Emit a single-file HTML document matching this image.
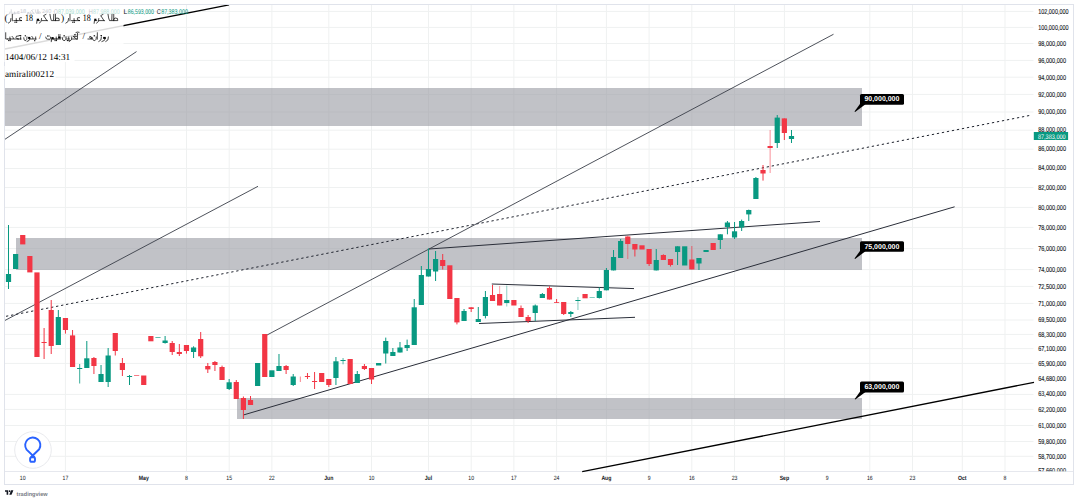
<!DOCTYPE html>
<html><head><meta charset="utf-8"><title>chart</title>
<style>
html,body{margin:0;padding:0;background:#fff;width:1078px;height:501px;overflow:hidden;}
svg{display:block;text-rendering:geometricPrecision;}
</style></head><body>
<svg width="1078" height="501" viewBox="0 0 1078 501">
<rect width="1078" height="501" fill="#fff"/>
<g stroke="#eff1f1" stroke-width="1"><line x1="4.5" y1="11.4" x2="1033.5" y2="11.4"/><line x1="4.5" y1="27.4" x2="1033.5" y2="27.4"/><line x1="4.5" y1="43.5" x2="1033.5" y2="43.5"/><line x1="4.5" y1="60.4" x2="1033.5" y2="60.4"/><line x1="4.5" y1="77.2" x2="1033.5" y2="77.2"/><line x1="4.5" y1="94.4" x2="1033.5" y2="94.4"/><line x1="4.5" y1="112" x2="1033.5" y2="112"/><line x1="4.5" y1="130.2" x2="1033.5" y2="130.2"/><line x1="4.5" y1="149.2" x2="1033.5" y2="149.2"/><line x1="4.5" y1="168.5" x2="1033.5" y2="168.5"/><line x1="4.5" y1="187.5" x2="1033.5" y2="187.5"/><line x1="4.5" y1="207.4" x2="1033.5" y2="207.4"/><line x1="4.5" y1="227.4" x2="1033.5" y2="227.4"/><line x1="4.5" y1="248.6" x2="1033.5" y2="248.6"/><line x1="4.5" y1="269.6" x2="1033.5" y2="269.6"/><line x1="4.5" y1="286.4" x2="1033.5" y2="286.4"/><line x1="4.5" y1="303.4" x2="1033.5" y2="303.4"/><line x1="4.5" y1="320" x2="1033.5" y2="320"/><line x1="4.5" y1="334.4" x2="1033.5" y2="334.4"/><line x1="4.5" y1="348.6" x2="1033.5" y2="348.6"/><line x1="4.5" y1="363.4" x2="1033.5" y2="363.4"/><line x1="4.5" y1="394.4" x2="1033.5" y2="394.4"/><line x1="4.5" y1="409.4" x2="1033.5" y2="409.4"/><line x1="4.5" y1="425.5" x2="1033.5" y2="425.5"/><line x1="4.5" y1="441.5" x2="1033.5" y2="441.5"/><line x1="4.5" y1="456.3" x2="1033.5" y2="456.3"/><line x1="65.4" y1="4.5" x2="65.4" y2="471.5"/><line x1="186.5" y1="4.5" x2="186.5" y2="471.5"/><line x1="229.2" y1="4.5" x2="229.2" y2="471.5"/><line x1="271.9" y1="4.5" x2="271.9" y2="471.5"/><line x1="328.8" y1="4.5" x2="328.8" y2="471.5"/><line x1="371.5" y1="4.5" x2="371.5" y2="471.5"/><line x1="428.5" y1="4.5" x2="428.5" y2="471.5"/><line x1="471.2" y1="4.5" x2="471.2" y2="471.5"/><line x1="513.9" y1="4.5" x2="513.9" y2="471.5"/><line x1="556.6" y1="4.5" x2="556.6" y2="471.5"/><line x1="606.4" y1="4.5" x2="606.4" y2="471.5"/><line x1="649.1" y1="4.5" x2="649.1" y2="471.5"/><line x1="691.8" y1="4.5" x2="691.8" y2="471.5"/><line x1="734.5" y1="4.5" x2="734.5" y2="471.5"/><line x1="784.4" y1="4.5" x2="784.4" y2="471.5"/><line x1="869.8" y1="4.5" x2="869.8" y2="471.5"/><line x1="912.5" y1="4.5" x2="912.5" y2="471.5"/><line x1="962.3" y1="4.5" x2="962.3" y2="471.5"/><line x1="1005.0" y1="4.5" x2="1005.0" y2="471.5"/></g><line x1="4.5" y1="471.5" x2="1073" y2="471.5" stroke="#e6e8ee" stroke-width="1"/><g fill="#989aa2" fill-opacity="0.6"><rect x="4.5" y="88" width="857.5" height="38"/><rect x="16" y="238" width="846" height="32"/><rect x="237" y="398" width="625" height="21"/></g><line x1="4.8" y1="49.0" x2="229" y2="4.9" stroke="#000" stroke-width="1.4" /><line x1="4.5" y1="139.6" x2="136.5" y2="51.6" stroke="#3a3e48" stroke-width="0.9" /><line x1="4.5" y1="320.7" x2="258" y2="186.3" stroke="#3a3e48" stroke-width="0.9" /><line x1="6" y1="316.3" x2="1031" y2="115.2" stroke="#1e222d" stroke-width="1.0" stroke-dasharray="2.3 2.8"/><line x1="265" y1="336.1" x2="833.5" y2="34.25" stroke="#3a3e48" stroke-width="0.9" /><line x1="243.3" y1="415" x2="954.6" y2="206.8" stroke="#2a2e39" stroke-width="1.0" /><line x1="429" y1="249" x2="820" y2="221.5" stroke="#2a2e39" stroke-width="1.0" /><line x1="491.8" y1="284" x2="634" y2="288.6" stroke="#2a2e39" stroke-width="1.0" /><line x1="479" y1="323.5" x2="635" y2="317.3" stroke="#2a2e39" stroke-width="1.0" /><line x1="582.2" y1="471.7" x2="1034" y2="382.3" stroke="#000" stroke-width="1.3" /><rect x="8.00" y="225.0" width="1" height="64.00" fill="#089981"/><rect x="5.90" y="274.0" width="5.2" height="8.00" fill="#089981"/><rect x="13.02" y="254.0" width="5.2" height="15.00" fill="#089981"/><rect x="20.14" y="235.0" width="5.2" height="9.40" fill="#f23645"/><rect x="27.25" y="256.0" width="5.2" height="16.40" fill="#f23645"/><rect x="34.37" y="272.4" width="5.2" height="84.60" fill="#f23645"/><rect x="43.59" y="328.0" width="1" height="31.00" fill="#f23645"/><rect x="41.49" y="342.0" width="5.2" height="1.00" fill="#f23645"/><rect x="50.71" y="300.0" width="1" height="54.00" fill="#f23645"/><rect x="48.61" y="310.0" width="5.2" height="36.00" fill="#f23645"/><rect x="57.83" y="310.0" width="1" height="35.00" fill="#089981"/><rect x="55.73" y="317.0" width="5.2" height="28.00" fill="#089981"/><rect x="64.94" y="318.0" width="1" height="15.60" fill="#f23645"/><rect x="62.84" y="318.0" width="5.2" height="12.00" fill="#f23645"/><rect x="72.06" y="330.0" width="1" height="37.00" fill="#f23645"/><rect x="69.96" y="335.4" width="5.2" height="31.60" fill="#f23645"/><rect x="79.18" y="364.0" width="1" height="19.50" fill="#089981" fill-opacity="0.8"/><rect x="77.08" y="368.0" width="5.2" height="1.00" fill="#089981"/><rect x="86.30" y="341.0" width="1" height="27.00" fill="#089981"/><rect x="84.20" y="358.3" width="5.2" height="9.70" fill="#089981"/><rect x="93.42" y="357.0" width="1" height="17.00" fill="#f23645"/><rect x="91.32" y="358.0" width="5.2" height="8.00" fill="#f23645"/><rect x="100.53" y="365.0" width="1" height="17.00" fill="#089981"/><rect x="98.43" y="374.0" width="5.2" height="8.00" fill="#089981"/><rect x="107.65" y="348.0" width="1" height="39.00" fill="#089981"/><rect x="105.55" y="355.5" width="5.2" height="26.50" fill="#089981"/><rect x="114.77" y="333.0" width="1" height="22.50" fill="#f23645"/><rect x="112.67" y="333.0" width="5.2" height="18.00" fill="#f23645"/><rect x="121.89" y="358.0" width="1" height="18.00" fill="#f23645"/><rect x="119.79" y="363.0" width="5.2" height="7.00" fill="#f23645"/><rect x="129.01" y="375.0" width="1" height="10.00" fill="#089981"/><rect x="126.91" y="376.0" width="5.2" height="1.00" fill="#089981"/><rect x="134.02" y="375.0" width="5.2" height="1.00" fill="#f23645" fill-opacity="0.65"/><rect x="141.14" y="375.5" width="5.2" height="9.50" fill="#f23645"/><rect x="148.26" y="336.0" width="5.2" height="5.30" fill="#f23645"/><rect x="155.38" y="337.0" width="5.2" height="1.00" fill="#089981" fill-opacity="0.65"/><rect x="164.60" y="336.0" width="1" height="7.60" fill="#089981"/><rect x="162.50" y="340.5" width="5.2" height="2.50" fill="#089981"/><rect x="171.71" y="341.0" width="1" height="14.00" fill="#f23645"/><rect x="169.61" y="343.0" width="5.2" height="9.00" fill="#f23645"/><rect x="178.83" y="344.0" width="1" height="12.00" fill="#f23645"/><rect x="176.73" y="352.0" width="5.2" height="2.00" fill="#f23645"/><rect x="185.95" y="345.0" width="1" height="8.60" fill="#f23645"/><rect x="183.85" y="345.0" width="5.2" height="6.00" fill="#f23645"/><rect x="193.07" y="346.3" width="1" height="11.70" fill="#089981"/><rect x="190.97" y="347.5" width="5.2" height="4.50" fill="#089981"/><rect x="200.19" y="332.0" width="1" height="26.00" fill="#f23645"/><rect x="198.09" y="339.0" width="5.2" height="17.30" fill="#f23645"/><rect x="207.30" y="363.0" width="1" height="10.00" fill="#f23645"/><rect x="205.20" y="366.0" width="5.2" height="3.40" fill="#f23645"/><rect x="214.42" y="361.0" width="1" height="10.00" fill="#f23645"/><rect x="212.32" y="362.0" width="5.2" height="3.00" fill="#f23645"/><rect x="221.54" y="365.6" width="1" height="14.40" fill="#f23645"/><rect x="219.44" y="367.0" width="5.2" height="13.00" fill="#f23645"/><rect x="228.66" y="379.0" width="1" height="11.00" fill="#089981"/><rect x="226.56" y="382.3" width="5.2" height="6.70" fill="#089981"/><rect x="235.78" y="380.0" width="1" height="19.00" fill="#f23645"/><rect x="233.68" y="382.0" width="5.2" height="17.00" fill="#f23645"/><rect x="242.89" y="396.5" width="1" height="22.50" fill="#f23645"/><rect x="240.79" y="398.0" width="5.2" height="12.00" fill="#f23645"/><rect x="250.01" y="396.0" width="1" height="9.00" fill="#f23645"/><rect x="247.91" y="400.0" width="5.2" height="5.00" fill="#f23645"/><rect x="255.03" y="363.0" width="5.2" height="23.00" fill="#089981"/><rect x="262.15" y="334.0" width="5.2" height="43.00" fill="#f23645"/><rect x="269.27" y="370.3" width="5.2" height="6.70" fill="#089981"/><rect x="278.48" y="354.0" width="1" height="17.00" fill="#089981"/><rect x="276.38" y="366.0" width="5.2" height="5.00" fill="#089981"/><rect x="285.60" y="365.0" width="1" height="9.00" fill="#f23645"/><rect x="283.50" y="366.0" width="5.2" height="4.00" fill="#f23645"/><rect x="292.72" y="374.0" width="1" height="12.00" fill="#089981"/><rect x="290.62" y="376.5" width="5.2" height="8.50" fill="#089981"/><rect x="299.84" y="376.5" width="1" height="5.50" fill="#f23645" fill-opacity="0.6"/><rect x="306.96" y="373.0" width="1" height="6.00" fill="#f23645"/><rect x="304.86" y="376.0" width="5.2" height="1.00" fill="#f23645"/><rect x="314.07" y="372.0" width="1" height="17.00" fill="#f23645"/><rect x="311.97" y="381.0" width="5.2" height="1.00" fill="#f23645"/><rect x="319.09" y="373.0" width="5.2" height="9.00" fill="#f23645"/><rect x="328.31" y="379.0" width="1" height="8.00" fill="#f23645"/><rect x="326.21" y="379.0" width="5.2" height="6.00" fill="#f23645"/><rect x="335.43" y="357.0" width="1" height="28.00" fill="#089981"/><rect x="333.33" y="361.3" width="5.2" height="16.70" fill="#089981"/><rect x="342.55" y="358.0" width="1" height="6.30" fill="#089981" fill-opacity="0.7"/><rect x="340.45" y="360.0" width="5.2" height="1.00" fill="#089981"/><rect x="347.56" y="359.0" width="5.2" height="25.00" fill="#f23645"/><rect x="356.78" y="371.0" width="1" height="12.00" fill="#089981"/><rect x="354.68" y="374.0" width="5.2" height="9.00" fill="#089981"/><rect x="363.90" y="364.0" width="1" height="6.00" fill="#f23645"/><rect x="361.80" y="366.0" width="5.2" height="3.00" fill="#f23645"/><rect x="371.02" y="368.0" width="1" height="16.00" fill="#f23645"/><rect x="368.92" y="368.0" width="5.2" height="11.50" fill="#f23645"/><rect x="376.04" y="363.0" width="5.2" height="2.50" fill="#089981"/><rect x="385.25" y="337.6" width="1" height="25.90" fill="#089981"/><rect x="383.15" y="341.0" width="5.2" height="12.50" fill="#089981"/><rect x="392.37" y="348.0" width="1" height="8.00" fill="#089981"/><rect x="390.27" y="352.0" width="5.2" height="4.00" fill="#089981"/><rect x="399.49" y="342.0" width="1" height="10.50" fill="#089981"/><rect x="397.39" y="347.5" width="5.2" height="5.00" fill="#089981"/><rect x="406.61" y="339.6" width="1" height="11.40" fill="#089981"/><rect x="404.51" y="345.0" width="5.2" height="3.00" fill="#089981"/><rect x="413.73" y="299.0" width="1" height="46.00" fill="#089981"/><rect x="411.63" y="307.3" width="5.2" height="37.70" fill="#089981"/><rect x="420.84" y="266.0" width="1" height="39.00" fill="#089981"/><rect x="418.74" y="275.0" width="5.2" height="30.00" fill="#089981"/><rect x="427.96" y="248.4" width="1" height="28.10" fill="#089981"/><rect x="425.86" y="269.0" width="5.2" height="7.50" fill="#089981"/><rect x="435.08" y="251.0" width="1" height="30.00" fill="#089981"/><rect x="432.98" y="259.0" width="5.2" height="12.50" fill="#089981"/><rect x="442.20" y="254.0" width="1" height="15.50" fill="#f23645"/><rect x="440.10" y="260.0" width="5.2" height="6.00" fill="#f23645"/><rect x="447.22" y="265.3" width="5.2" height="33.70" fill="#f23645"/><rect x="456.43" y="298.0" width="1" height="26.40" fill="#f23645"/><rect x="454.33" y="298.0" width="5.2" height="24.40" fill="#f23645"/><rect x="463.55" y="309.0" width="1" height="12.00" fill="#089981"/><rect x="461.45" y="311.0" width="5.2" height="10.00" fill="#089981"/><rect x="470.67" y="307.3" width="1" height="4.70" fill="#f23645"/><rect x="468.57" y="307.3" width="5.2" height="1.70" fill="#f23645"/><rect x="477.79" y="307.0" width="1" height="15.00" fill="#089981"/><rect x="475.69" y="319.0" width="5.2" height="3.00" fill="#089981"/><rect x="484.91" y="291.0" width="1" height="27.40" fill="#089981"/><rect x="482.81" y="297.0" width="5.2" height="19.00" fill="#089981"/><rect x="492.02" y="285.0" width="1" height="16.00" fill="#f23645"/><rect x="489.92" y="295.0" width="5.2" height="6.00" fill="#f23645"/><rect x="499.14" y="286.0" width="1" height="19.50" fill="#f23645" fill-opacity="0.45"/><rect x="497.04" y="294.0" width="5.2" height="11.50" fill="#f23645"/><rect x="506.26" y="285.5" width="1" height="21.00" fill="#089981" fill-opacity="0.45"/><rect x="504.16" y="300.0" width="5.2" height="3.00" fill="#089981"/><rect x="511.28" y="300.0" width="5.2" height="5.50" fill="#f23645"/><rect x="520.50" y="305.5" width="1" height="11.50" fill="#f23645"/><rect x="518.40" y="308.0" width="5.2" height="9.00" fill="#f23645"/><rect x="527.61" y="315.0" width="1" height="8.00" fill="#f23645"/><rect x="525.51" y="317.0" width="5.2" height="4.00" fill="#f23645"/><rect x="534.73" y="304.5" width="1" height="16.50" fill="#089981"/><rect x="532.63" y="305.5" width="5.2" height="7.50" fill="#089981"/><rect x="541.85" y="293.0" width="1" height="5.00" fill="#089981"/><rect x="539.75" y="294.0" width="5.2" height="4.00" fill="#089981"/><rect x="548.97" y="286.3" width="1" height="13.20" fill="#f23645"/><rect x="546.87" y="288.0" width="5.2" height="11.50" fill="#f23645"/><rect x="556.09" y="299.0" width="1" height="4.00" fill="#f23645"/><rect x="553.99" y="302.0" width="5.2" height="1.00" fill="#f23645" fill-opacity="0.8"/><rect x="563.20" y="302.0" width="1" height="13.00" fill="#f23645"/><rect x="561.10" y="302.0" width="5.2" height="12.00" fill="#f23645"/><rect x="570.32" y="311.0" width="1" height="6.00" fill="#089981"/><rect x="568.22" y="312.0" width="5.2" height="2.00" fill="#089981"/><rect x="577.44" y="297.0" width="1" height="13.00" fill="#089981" fill-opacity="0.5"/><rect x="575.34" y="300.0" width="5.2" height="1.00" fill="#089981"/><rect x="582.46" y="294.0" width="5.2" height="4.30" fill="#f23645"/><rect x="589.58" y="297.0" width="5.2" height="1.00" fill="#089981" fill-opacity="0.5"/><rect x="598.79" y="287.3" width="1" height="11.20" fill="#089981"/><rect x="596.69" y="291.0" width="5.2" height="7.00" fill="#089981"/><rect x="605.91" y="268.0" width="1" height="22.30" fill="#089981"/><rect x="603.81" y="270.0" width="5.2" height="20.30" fill="#089981"/><rect x="613.03" y="250.0" width="1" height="20.40" fill="#089981"/><rect x="610.93" y="257.0" width="5.2" height="13.40" fill="#089981"/><rect x="620.15" y="239.0" width="1" height="19.00" fill="#089981"/><rect x="618.05" y="241.0" width="5.2" height="17.00" fill="#089981"/><rect x="627.27" y="235.5" width="1" height="23.50" fill="#f23645" fill-opacity="0.55"/><rect x="625.17" y="236.5" width="5.2" height="7.50" fill="#f23645"/><rect x="634.38" y="244.0" width="1" height="12.50" fill="#f23645"/><rect x="632.28" y="244.0" width="5.2" height="5.50" fill="#f23645"/><rect x="639.40" y="245.3" width="5.2" height="4.20" fill="#f23645"/><rect x="648.62" y="249.0" width="1" height="17.00" fill="#f23645"/><rect x="646.52" y="249.0" width="5.2" height="15.00" fill="#f23645"/><rect x="655.74" y="249.0" width="1" height="21.40" fill="#089981"/><rect x="653.64" y="260.0" width="5.2" height="10.40" fill="#089981"/><rect x="662.86" y="254.3" width="1" height="5.70" fill="#f23645"/><rect x="660.76" y="255.0" width="5.2" height="5.00" fill="#f23645"/><rect x="669.97" y="259.0" width="1" height="7.50" fill="#f23645"/><rect x="667.87" y="259.0" width="5.2" height="6.00" fill="#f23645"/><rect x="677.09" y="246.3" width="1" height="18.70" fill="#089981"/><rect x="674.99" y="246.3" width="5.2" height="5.70" fill="#089981"/><rect x="682.11" y="246.3" width="5.2" height="19.20" fill="#089981"/><rect x="691.33" y="246.0" width="1" height="23.40" fill="#f23645" fill-opacity="0.7"/><rect x="689.23" y="259.5" width="5.2" height="9.90" fill="#f23645"/><rect x="698.45" y="258.0" width="1" height="12.00" fill="#089981"/><rect x="696.35" y="258.0" width="5.2" height="5.50" fill="#089981"/><rect x="703.46" y="250.0" width="5.2" height="2.00" fill="#089981"/><rect x="710.58" y="243.0" width="5.2" height="7.00" fill="#f23645"/><rect x="719.80" y="234.3" width="1" height="14.70" fill="#089981"/><rect x="717.70" y="234.3" width="5.2" height="5.70" fill="#089981"/><rect x="726.92" y="221.0" width="1" height="13.30" fill="#089981"/><rect x="724.82" y="222.5" width="5.2" height="4.50" fill="#089981"/><rect x="734.04" y="222.0" width="1" height="17.00" fill="#089981"/><rect x="731.94" y="231.3" width="5.2" height="6.20" fill="#089981"/><rect x="741.15" y="219.6" width="1" height="11.40" fill="#089981"/><rect x="739.05" y="221.0" width="5.2" height="6.50" fill="#089981"/><rect x="748.27" y="209.6" width="1" height="11.40" fill="#089981"/><rect x="746.17" y="210.0" width="5.2" height="4.40" fill="#089981"/><rect x="755.39" y="177.0" width="1" height="22.00" fill="#089981"/><rect x="753.29" y="178.0" width="5.2" height="21.00" fill="#089981"/><rect x="762.51" y="165.0" width="1" height="15.60" fill="#f23645"/><rect x="760.41" y="170.0" width="5.2" height="3.50" fill="#f23645"/><rect x="769.63" y="130.0" width="1" height="43.00" fill="#f23645" fill-opacity="0.55"/><rect x="767.53" y="146.0" width="5.2" height="2.00" fill="#f23645"/><rect x="776.74" y="115.0" width="1" height="33.00" fill="#089981"/><rect x="774.64" y="117.6" width="5.2" height="25.40" fill="#089981"/><rect x="783.86" y="118.4" width="1" height="21.60" fill="#f23645"/><rect x="781.76" y="118.4" width="5.2" height="14.60" fill="#f23645"/><rect x="790.98" y="130.0" width="1" height="13.00" fill="#089981"/><rect x="788.88" y="136.0" width="5.2" height="3.00" fill="#089981"/><path d="M865.5 104.3 L855.0999999999999 112 L854.5 111.6 L860.5 103.3 Z" fill="#000"/><rect x="860" y="94" width="44" height="10.799999999999997" rx="1.5" fill="#000"/><text x="864.4" y="101.4" font-size="7" font-weight="bold" fill="#fff" font-family="Liberation Sans" textLength="35" lengthAdjust="spacingAndGlyphs">90,000,000</text><path d="M865.5 251.3 L855.0999999999999 258.9 L854.5 258.5 L860.5 250.3 Z" fill="#000"/><rect x="860" y="241.2" width="44" height="10.600000000000023" rx="1.5" fill="#000"/><text x="864.4" y="248.5" font-size="7" font-weight="bold" fill="#fff" font-family="Liberation Sans" textLength="35" lengthAdjust="spacingAndGlyphs">75,000,000</text><path d="M865.5 392.0 L855.3 399.5 L854.7 399.1 L860.5 391.0 Z" fill="#000"/><rect x="860" y="381.5" width="44" height="11.0" rx="1.5" fill="#000"/><text x="864.4" y="389.0" font-size="7" font-weight="bold" fill="#fff" font-family="Liberation Sans" textLength="35" lengthAdjust="spacingAndGlyphs">63,000,000</text><defs><clipPath id="pc"><rect x="1030" y="4" width="44" height="467.2"/></clipPath></defs><g clip-path="url(#pc)" font-family="Liberation Sans" font-size="7.1" fill="#131722" stroke="#131722" stroke-width="0.12"><text x="1038.2" y="13.7" textLength="30.4" lengthAdjust="spacingAndGlyphs">102,000,000</text><text x="1038.2" y="29.7" textLength="30.4" lengthAdjust="spacingAndGlyphs">100,000,000</text><text x="1038.2" y="45.6" textLength="27.8" lengthAdjust="spacingAndGlyphs">98,000,000</text><text x="1038.2" y="62.6" textLength="27.8" lengthAdjust="spacingAndGlyphs">96,000,000</text><text x="1038.2" y="79.5" textLength="27.8" lengthAdjust="spacingAndGlyphs">94,000,000</text><text x="1038.2" y="96.7" textLength="27.8" lengthAdjust="spacingAndGlyphs">92,000,000</text><text x="1038.2" y="114.3" textLength="27.8" lengthAdjust="spacingAndGlyphs">90,000,000</text><text x="1038.2" y="131.6" textLength="27.8" lengthAdjust="spacingAndGlyphs">88,000,000</text><text x="1038.2" y="150.6" textLength="27.8" lengthAdjust="spacingAndGlyphs">86,000,000</text><text x="1038.2" y="170.1" textLength="27.8" lengthAdjust="spacingAndGlyphs">84,000,000</text><text x="1038.2" y="189.6" textLength="27.8" lengthAdjust="spacingAndGlyphs">82,000,000</text><text x="1038.2" y="209.5" textLength="27.8" lengthAdjust="spacingAndGlyphs">80,000,000</text><text x="1038.2" y="229.6" textLength="27.8" lengthAdjust="spacingAndGlyphs">78,000,000</text><text x="1038.2" y="250.6" textLength="27.8" lengthAdjust="spacingAndGlyphs">76,000,000</text><text x="1038.2" y="272.1" textLength="27.8" lengthAdjust="spacingAndGlyphs">74,000,000</text><text x="1038.2" y="288.6" textLength="27.8" lengthAdjust="spacingAndGlyphs">72,500,000</text><text x="1038.2" y="305.7" textLength="27.8" lengthAdjust="spacingAndGlyphs">71,000,000</text><text x="1038.2" y="322.3" textLength="27.8" lengthAdjust="spacingAndGlyphs">69,500,000</text><text x="1038.2" y="336.6" textLength="27.8" lengthAdjust="spacingAndGlyphs">68,300,000</text><text x="1038.2" y="350.8" textLength="27.8" lengthAdjust="spacingAndGlyphs">67,100,000</text><text x="1038.2" y="365.6" textLength="27.8" lengthAdjust="spacingAndGlyphs">65,900,000</text><text x="1038.2" y="380.6" textLength="27.8" lengthAdjust="spacingAndGlyphs">64,680,000</text><text x="1038.2" y="396.1" textLength="27.8" lengthAdjust="spacingAndGlyphs">63,400,000</text><text x="1038.2" y="411.7" textLength="27.8" lengthAdjust="spacingAndGlyphs">62,200,000</text><text x="1038.2" y="427.5" textLength="27.8" lengthAdjust="spacingAndGlyphs">61,000,000</text><text x="1038.2" y="443.6" textLength="27.8" lengthAdjust="spacingAndGlyphs">59,800,000</text><text x="1038.2" y="458.5" textLength="27.8" lengthAdjust="spacingAndGlyphs">58,700,000</text><text x="1038.2" y="473.1" textLength="27.8" lengthAdjust="spacingAndGlyphs">57,660,000</text></g><rect x="1033.8" y="132" width="34.3" height="8" fill="#089981"/><text x="1037.9" y="138.5" font-family="Liberation Sans" font-size="6.6" fill="#fff" textLength="27.8" lengthAdjust="spacingAndGlyphs">87,383,000</text><g font-family="Liberation Sans" font-size="6.2" fill="#131722"><text x="19.87" y="480.3" textLength="5.74" lengthAdjust="spacingAndGlyphs">10</text><text x="62.58" y="480.3" textLength="5.74" lengthAdjust="spacingAndGlyphs">17</text><text x="138.72" y="480.3" font-weight="bold" textLength="10.04" lengthAdjust="spacingAndGlyphs">May</text><text x="185.02" y="480.3" textLength="2.87" lengthAdjust="spacingAndGlyphs">8</text><text x="226.29" y="480.3" textLength="5.74" lengthAdjust="spacingAndGlyphs">15</text><text x="269.00" y="480.3" textLength="5.74" lengthAdjust="spacingAndGlyphs">22</text><text x="324.22" y="480.3" font-weight="bold" textLength="9.17" lengthAdjust="spacingAndGlyphs">Jun</text><text x="368.65" y="480.3" textLength="5.74" lengthAdjust="spacingAndGlyphs">10</text><text x="424.73" y="480.3" font-weight="bold" textLength="7.46" lengthAdjust="spacingAndGlyphs">Jul</text><text x="468.30" y="480.3" textLength="5.74" lengthAdjust="spacingAndGlyphs">10</text><text x="511.01" y="480.3" textLength="5.74" lengthAdjust="spacingAndGlyphs">17</text><text x="553.72" y="480.3" textLength="5.74" lengthAdjust="spacingAndGlyphs">24</text><text x="601.40" y="480.3" font-weight="bold" textLength="10.03" lengthAdjust="spacingAndGlyphs">Aug</text><text x="647.69" y="480.3" textLength="2.87" lengthAdjust="spacingAndGlyphs">9</text><text x="688.96" y="480.3" textLength="5.74" lengthAdjust="spacingAndGlyphs">16</text><text x="731.67" y="480.3" textLength="5.74" lengthAdjust="spacingAndGlyphs">23</text><text x="779.63" y="480.3" font-weight="bold" textLength="9.46" lengthAdjust="spacingAndGlyphs">Sep</text><text x="825.64" y="480.3" textLength="2.87" lengthAdjust="spacingAndGlyphs">9</text><text x="866.91" y="480.3" textLength="5.74" lengthAdjust="spacingAndGlyphs">16</text><text x="909.62" y="480.3" textLength="5.74" lengthAdjust="spacingAndGlyphs">23</text><text x="958.01" y="480.3" font-weight="bold" textLength="8.60" lengthAdjust="spacingAndGlyphs">Oct</text><text x="1003.59" y="480.3" textLength="2.87" lengthAdjust="spacingAndGlyphs">8</text></g><rect x="4.5" y="4.5" width="1069" height="480" fill="none" stroke="#e0e3eb" stroke-width="1"/>
<rect x="4.5" y="5" width="119" height="45" fill="#fff" fill-opacity="0.86"/>
<rect x="4.5" y="50" width="70" height="12" fill="#fff"/>
<rect x="4.5" y="66" width="51" height="13" fill="#fff"/>
<g transform="translate(8.50 20.60) scale(1.275 1.000)">
<path d="M2.00 -2.00 Q2.30 1.80 0.00 2.60 M3.00 -6.20 L3.00 0.10 M4.20 0.00 L6.60 0.00 M6.10 0.20 L6.10 -1.90 M10.20 -3.00 Q8.20 -3.60 8.40 -1.50 Q8.60 -0.20 10.20 0.00 M10.20 0.00 L6.60 0.00" fill="none" stroke="#000" stroke-width="0.637765329399941" stroke-linecap="square" />
<g fill="#000" ><rect x="4.60" y="1.10" width="1.00" height="1.00"/><rect x="5.80" y="1.10" width="1.00" height="1.00"/></g>
</g>
<g transform="translate(36.00 20.60) scale(1.127 1.000)">
<path d="M3.00 0.00 L1.60 0.00 M0.90 0.00 L0.60 2.60 M5.00 -2.00 Q5.30 1.80 3.00 2.60 M5.40 0.00 L10.00 0.00 M9.80 0.10 L7.20 -4.20 M8.80 -6.20 L6.80 -5.00" fill="none" stroke="#000" stroke-width="0.6780842579425991" stroke-linecap="square" />
<g fill="#000" ><rect x="0.70" y="-1.90" width="2.00" height="2.00"/></g>
</g>
<g transform="translate(49.50 20.60) scale(1.190 1.000)">
<path d="M0.40 -6.20 Q0.80 -2.00 1.60 0.00 L3.40 0.00 L3.60 -6.20 M3.80 0.00 L8.20 0.00 Q8.80 -2.80 6.20 -2.60 Q4.90 -2.40 4.90 -0.80 M5.00 -6.20 L5.00 0.00" fill="none" stroke="#000" stroke-width="0.6598909000736408" stroke-linecap="square" />
</g>
<g transform="translate(66.00 20.60) scale(1.324 1.000)">
<path d="M2.00 -2.00 Q2.30 1.80 0.00 2.60 M3.00 -6.20 L3.00 0.10 M4.20 0.00 L6.60 0.00 M6.10 0.20 L6.10 -1.90 M10.20 -3.00 Q8.20 -3.60 8.40 -1.50 Q8.60 -0.20 10.20 0.00 M10.20 0.00 L6.60 0.00" fill="none" stroke="#000" stroke-width="0.6258434308994542" stroke-linecap="square" />
<g fill="#000" ><rect x="4.60" y="1.10" width="1.00" height="1.00"/><rect x="5.80" y="1.10" width="1.00" height="1.00"/></g>
</g>
<g transform="translate(93.50 20.60) scale(1.078 1.000)">
<path d="M3.00 0.00 L1.60 0.00 M0.90 0.00 L0.60 2.60 M5.00 -2.00 Q5.30 1.80 3.00 2.60 M5.40 0.00 L10.00 0.00 M9.80 0.10 L7.20 -4.20 M8.80 -6.20 L6.80 -5.00" fill="none" stroke="#000" stroke-width="0.6933240092613133" stroke-linecap="square" />
<g fill="#000" ><rect x="0.70" y="-1.90" width="2.00" height="2.00"/></g>
</g>
<g transform="translate(107.50 20.60) scale(1.250 1.000)">
<path d="M0.40 -6.20 Q0.80 -2.00 1.60 0.00 L3.40 0.00 L3.60 -6.20 M3.80 0.00 L8.20 0.00 Q8.80 -2.80 6.20 -2.60 Q4.90 -2.40 4.90 -0.80 M5.00 -6.20 L5.00 0.00" fill="none" stroke="#000" stroke-width="0.6439875775199394" stroke-linecap="square" />
</g>
<g font-family="Liberation Serif" font-size="9.6" fill="#000"><text x="4.6" y="21.1">(</text><text x="25" y="21.200000000000003" font-size="9.8" textLength="8" lengthAdjust="spacingAndGlyphs">18</text><text x="61" y="21.1">)</text><text x="82.8" y="21.200000000000003" font-size="9.8" textLength="8" lengthAdjust="spacingAndGlyphs">18</text></g>
<g transform="translate(5.00 39.00) scale(1.194 1.000)">
<path d="M0.60 -6.20 L0.60 0.00 L2.20 0.00 M2.20 0.00 L4.60 0.00 M4.10 0.20 L4.10 -1.90 M4.60 0.00 L7.00 0.00 Q7.40 -1.00 6.00 -2.60 M11.00 -3.00 Q9.00 -3.60 9.20 -1.50 Q9.40 -0.20 11.00 0.00 M11.00 0.00 L7.40 0.00 M11.00 0.00 L13.40 0.00 M13.10 0.10 L13.10 -2.00" fill="none" stroke="#000" stroke-width="0.6589081878380325" stroke-linecap="square" />
<g fill="#000" ><rect x="2.60" y="1.10" width="1.00" height="1.00"/><rect x="3.80" y="1.10" width="1.00" height="1.00"/><rect x="11.40" y="-3.90" width="1.00" height="1.00"/><rect x="12.60" y="-3.90" width="1.00" height="1.00"/></g>
</g>
<g transform="translate(23.50 39.00) scale(1.078 1.000)">
<path d="M3.20 -2.00 Q3.40 1.60 1.60 1.60 Q0.10 1.60 0.20 -1.20 M6.00 -0.60 Q5.80 2.20 3.40 2.60 M6.40 0.00 L8.80 0.00 Q9.20 -1.00 7.80 -2.60 M9.20 0.00 L11.60 0.00 M11.30 0.10 L11.30 -2.00" fill="none" stroke="#000" stroke-width="0.6935958477384362" stroke-linecap="square" />
<g fill="#000" ><rect x="1.15" y="-3.75" width="1.10" height="1.10"/><rect x="4.30" y="-2.10" width="2.00" height="2.00"/><rect x="9.85" y="1.15" width="1.10" height="1.10"/></g>
</g>
<g transform="translate(45.50 39.00) scale(1.154 1.000)">
<path d="M0.20 -1.80 Q0.20 0.20 1.60 0.20 L4.00 0.20 Q4.60 0.00 4.40 -1.80 M7.40 0.00 L6.00 0.00 M5.30 0.00 L5.00 2.60 M7.40 0.00 L9.80 0.00 M9.30 0.20 L9.30 -1.90 M9.80 0.00 L13.00 0.00" fill="none" stroke="#000" stroke-width="0.6702835221009092" stroke-linecap="square" />
<g fill="#000" ><rect x="1.30" y="-3.50" width="1.00" height="1.00"/><rect x="2.50" y="-3.50" width="1.00" height="1.00"/><rect x="5.10" y="-1.90" width="2.00" height="2.00"/><rect x="7.80" y="1.10" width="1.00" height="1.00"/><rect x="9.00" y="1.10" width="1.00" height="1.00"/><rect x="10.90" y="-2.70" width="2.20" height="2.20"/><rect x="10.90" y="-4.50" width="1.00" height="1.00"/><rect x="12.10" y="-4.50" width="1.00" height="1.00"/></g>
</g>
<g transform="translate(62.00 39.00) scale(1.269 1.000)">
<path d="M3.20 -2.00 Q3.40 1.60 1.60 1.60 Q0.10 1.60 0.20 -1.20 M3.40 0.00 L5.80 0.00 M5.30 0.20 L5.30 -1.90 M7.80 -2.00 Q8.10 1.80 5.80 2.60 M8.20 0.00 L11.60 0.00 M11.40 0.00 L8.80 -2.60 L11.40 -2.60 M12.20 -5.60 L12.20 0.10 M11.00 -6.60 Q11.80 -7.40 13.40 -6.80" fill="none" stroke="#000" stroke-width="0.6392348367154189" stroke-linecap="square" />
<g fill="#000" ><rect x="1.15" y="-3.75" width="1.10" height="1.10"/><rect x="3.80" y="1.10" width="1.00" height="1.00"/><rect x="5.00" y="1.10" width="1.00" height="1.00"/><rect x="9.65" y="-4.85" width="1.10" height="1.10"/></g>
</g>
<g transform="translate(88.00 39.00) scale(1.296 1.000)">
<path d="M0.00 0.00 L2.80 0.00 Q3.20 -2.80 1.40 -2.60 Q0.60 -1.20 2.60 0.00 M6.40 -2.00 Q6.60 1.60 4.80 1.60 Q3.30 1.60 3.40 -1.20 M7.20 -6.20 L7.20 0.10 M10.40 -2.00 Q10.70 1.80 8.40 2.60 M13.40 -0.60 Q13.20 2.20 10.80 2.60 M15.80 -2.00 Q16.10 1.80 13.80 2.60" fill="none" stroke="#000" stroke-width="0.6323832472706494" stroke-linecap="square" />
<g fill="#000" ><rect x="4.35" y="-3.75" width="1.10" height="1.10"/><rect x="9.65" y="-3.95" width="1.10" height="1.10"/><rect x="11.70" y="-2.10" width="2.00" height="2.00"/></g>
</g>
<g font-family="Liberation Serif" font-size="9" fill="#000"><text x="39" y="39.0">/</text><text x="82.5" y="39.0">/</text></g>
<g font-family="Liberation Serif" font-size="9.2" fill="#000"><text x="5" y="60.4">1404/06/12 14:31</text><text x="5" y="76.8">amirali00212</text></g>
<g transform="translate(8.00 13.20) scale(1.078 0.550)">
<path d="M2.00 -2.00 Q2.30 1.80 0.00 2.60 M3.00 -6.20 L3.00 0.10 M4.20 0.00 L6.60 0.00 M6.10 0.20 L6.10 -1.90 M10.20 -3.00 Q8.20 -3.60 8.40 -1.50 Q8.60 -0.20 10.20 0.00 M10.20 0.00 L6.60 0.00" fill="none" stroke="#c9ccd3" stroke-width="0.9089090727236353" stroke-linecap="square" />
<g fill="#c9ccd3" ><rect x="4.60" y="1.10" width="1.00" height="1.00"/><rect x="5.80" y="1.10" width="1.00" height="1.00"/></g>
</g>
<g font-family="Liberation Sans" font-size="5.6" letter-spacing="-0.05"><text x="20" y="13.2" fill="#c9ccd3">18</text>
</g>
<g transform="translate(27.00 13.20) scale(0.686 0.550)">
<path d="M3.00 0.00 L1.60 0.00 M0.90 0.00 L0.60 2.60 M5.00 -2.00 Q5.30 1.80 3.00 2.60 M5.40 0.00 L10.00 0.00 M9.80 0.10 L7.20 -4.20 M8.80 -6.20 L6.80 -5.00" fill="none" stroke="#c9ccd3" stroke-width="1.1393778206467853" stroke-linecap="square" />
<g fill="#c9ccd3" ><rect x="0.70" y="-1.90" width="2.00" height="2.00"/></g>
</g>
<g transform="translate(35.00 13.20) scale(0.655 0.550)">
<path d="M0.40 -6.20 Q0.80 -2.00 1.60 0.00 L3.40 0.00 L3.60 -6.20 M3.80 0.00 L8.20 0.00 Q8.80 -2.80 6.20 -2.60 Q4.90 -2.40 4.90 -0.80 M5.00 -6.20 L5.00 0.00" fill="none" stroke="#c9ccd3" stroke-width="1.1664738132614862" stroke-linecap="square" />
</g>
<g font-family="Liberation Sans">
<text x="42" y="13.2" fill="#c9ccd3" font-size="5.6">240 ·</text>
<text x="53.8" y="13.799999999999999" fill="#c4c6cc" font-size="6.8" textLength="4.00" lengthAdjust="spacingAndGlyphs">O</text>
<text x="58.11" y="13.799999999999999" fill="#a6dbd0" font-size="6.8" textLength="26.49" lengthAdjust="spacingAndGlyphs">87,039,000</text>
<text x="88.7" y="13.799999999999999" fill="#c4c6cc" font-size="6.8" textLength="4.03" lengthAdjust="spacingAndGlyphs">H</text>
<text x="93.04" y="13.799999999999999" fill="#b8e2d9" font-size="6.8" textLength="26.66" lengthAdjust="spacingAndGlyphs">87,988,000</text>
<text x="123.6" y="13.799999999999999" fill="#131722" font-size="6.8" textLength="3.93" lengthAdjust="spacingAndGlyphs">L</text>
<text x="127.83" y="13.799999999999999" fill="#089981" font-size="6.8" textLength="25.97" lengthAdjust="spacingAndGlyphs">86,593,000</text>
<text x="156.8" y="13.799999999999999" fill="#131722" font-size="6.8" textLength="4.06" lengthAdjust="spacingAndGlyphs">C</text>
<text x="161.17" y="13.799999999999999" fill="#089981" font-size="6.8" textLength="26.83" lengthAdjust="spacingAndGlyphs">87,383,000</text>
</g>
<circle cx="33" cy="450" r="18.3" fill="#fff" stroke="#e3e4e8" stroke-width="0.8"/>
<g fill="none" stroke="#2962ff" stroke-width="1.9" stroke-linejoin="round" stroke-linecap="round">
<path d="M34.3 457 L26.6 449.6 A7.6 7.6 0 1 1 39.2 449.2 L31.2 457"/>
<rect x="30.1" y="457.3" width="4.9" height="4.5" rx="1.6"/>
</g>
<g transform="translate(5 490.3)">
<path d="M0 0 H3.2 V4.4 H1.6 V1.5 H0 Z" fill="#131722"/>
<circle cx="4.6" cy="0.85" r="0.85" fill="#131722"/>
<path d="M6.1 0 H8.4 L6.5 4.4 H4.3 Z" fill="#131722"/>
</g>
<text x="16.6" y="495.6" font-family="Liberation Sans" font-size="5.8" font-weight="bold" fill="#787b86" textLength="31" lengthAdjust="spacingAndGlyphs">tradingview</text>

</svg>
</body></html>
